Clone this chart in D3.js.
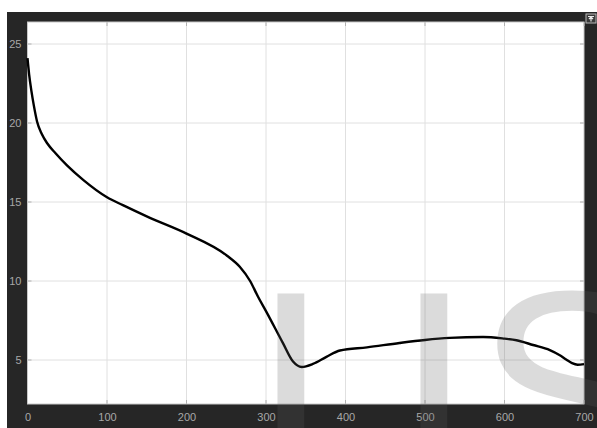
<!DOCTYPE html>
<html lang="en">

<head>
    <meta charset="UTF-8">
    <title>Scope Trace</title>
    <script src="https://d3js.org/d3.v7.min.js"></script>
    <style>
        body {
            margin: 0;
            padding: 0;
            background: #ffffff;
            font-family: 'Liberation Sans', Arial, sans-serif;
        }

        svg {
            display: block;
        }

        .x-axis text,
        .y-axis text {
            fill: #a8a8a8;
            font-size: 11px;
            font-family: 'Liberation Sans', Arial, sans-serif;
        }

        .x-axis path,
        .y-axis path {
            display: none;
        }

        .grid line {
            stroke: #e0e0e0;
            stroke-width: 1;
        }
    </style>
</head>

<body>
    <svg></svg>

    <script>
        // trace
        const timeValues = [0, 2, 5, 8, 12, 18, 25, 35, 50, 70, 100, 120, 154, 200, 251, 267, 280, 290, 301, 321, 334, 345, 359, 376, 393, 427, 468, 500, 531, 573, 600, 615, 636, 657, 669, 678, 685, 692, 700];
        const signalValues = [24.1, 23.1, 22.0, 21.1, 20.1, 19.3, 18.7, 18.1, 17.3, 16.4, 15.3, 14.8, 14.0, 13.0, 11.6, 10.9, 10.0, 9.0, 8.0, 6.1, 4.9, 4.56, 4.75, 5.2, 5.6, 5.8, 6.08, 6.27, 6.4, 6.46, 6.35, 6.25, 5.95, 5.63, 5.32, 5.02, 4.8, 4.7, 4.74];
        const xTicks = [0, 100, 200, 300, 400, 500, 600, 700];
        const yTicks = [5, 10, 15, 20, 25];
        const watermarkLetters = ["I", "I", "S"];

        const W = 597, H = 428;
        const frame = { left: 7, top: 12 };
        const plot = { left: 27.5, top: 22, right: 584, bottom: 404 };

        const svg = d3.select("svg")
            .attr("width", W)
            .attr("height", H);

        // dark scope frame
        svg.append("rect")
            .attr("x", frame.left)
            .attr("y", frame.top)
            .attr("width", W - frame.left)
            .attr("height", H - frame.top)
            .attr("fill", "#262626");

        svg.append("rect")
            .attr("x", plot.left)
            .attr("y", plot.top)
            .attr("width", plot.right - plot.left)
            .attr("height", plot.bottom - plot.top)
            .attr("fill", "#ffffff");

        const x = d3.scaleLinear()
            .domain([0, 700])
            .range([plot.left, plot.right]);

        // 25 sits at y=44, 5 at y=360
        const y = d3.scaleLinear()
            .domain([5, 25])
            .range([360, 44]);

        // grid
        const grid = svg.append("g").attr("class", "grid");
        grid.selectAll(".gx")
            .data(xTicks.filter(d => d > 0 && d < 700))
            .join("line")
            .attr("x1", d => x(d)).attr("x2", d => x(d))
            .attr("y1", plot.top).attr("y2", plot.bottom);
        grid.selectAll(".gy")
            .data(yTicks)
            .join("line")
            .attr("x1", plot.left).attr("x2", plot.right)
            .attr("y1", d => y(d)).attr("y2", d => y(d));

        // axes (labels on the dark frame)
        svg.append("g")
            .attr("class", "x-axis")
            .attr("transform", `translate(0,${plot.bottom})`)
            .call(d3.axisBottom(x).tickValues(xTicks).tickSize(0).tickPadding(9))
            .selectAll("text")
            .attr("dy", "0.71em");

        svg.append("g")
            .attr("class", "y-axis")
            .attr("transform", `translate(${plot.left},0)`)
            .call(d3.axisLeft(y).tickValues(yTicks).tickSize(0).tickPadding(6));

        // inner tick marks like the scope
        const ticks = svg.append("g").attr("stroke", "#b0b0b0").attr("stroke-width", 1);
        ticks.selectAll(".tb")
            .data(xTicks)
            .join("line")
            .attr("x1", d => x(d)).attr("x2", d => x(d))
            .attr("y1", plot.bottom).attr("y2", plot.bottom - 4);
        ticks.selectAll(".tt")
            .data(xTicks)
            .join("line")
            .attr("x1", d => x(d)).attr("x2", d => x(d))
            .attr("y1", plot.top).attr("y2", plot.top + 4);
        ticks.selectAll(".tl")
            .data(yTicks)
            .join("line")
            .attr("x1", plot.left).attr("x2", plot.left + 4)
            .attr("y1", d => y(d)).attr("y2", d => y(d));
        ticks.selectAll(".tr")
            .data(yTicks)
            .join("line")
            .attr("x1", plot.right).attr("x2", plot.right - 4)
            .attr("y1", d => y(d)).attr("y2", d => y(d));

        svg.append("rect")
            .attr("x", plot.left)
            .attr("y", plot.top)
            .attr("width", plot.right - plot.left)
            .attr("height", plot.bottom - plot.top)
            .attr("fill", "none")
            .attr("stroke", "#c8c8c8")
            .attr("stroke-width", 1);

        // signal
        const points = timeValues.map((t, i) => ({ t, v: signalValues[i] }));
        const line = d3.line()
            .x(d => x(d.t))
            .y(d => y(d.v))
            .curve(d3.curveMonotoneX);

        svg.append("path")
            .datum(points)
            .attr("fill", "none")
            .attr("stroke", "#000000")
            .attr("stroke-width", 2.4)
            .attr("stroke-linejoin", "round")
            .attr("d", line);

        // little undock button top right
        const btn = svg.append("g").attr("transform", "translate(586,14)");
        btn.append("rect")
            .attr("width", 10).attr("height", 9)
            .attr("fill", "#3a3a3a")
            .attr("stroke", "#b8b8b8")
            .attr("stroke-width", 1);
        btn.append("path")
            .attr("d", "M2,2.5 H8 M5,2.5 V7.5 M3,5 L5,3 L7,5")
            .attr("fill", "none")
            .attr("stroke", "#e8e8e8")
            .attr("stroke-width", 1.2);

        // watermark sits over everything, semi transparent
        const wmX = [251, 394, 475];
        svg.append("g")
            .attr("opacity", 0.22)
            .selectAll("text")
            .data(watermarkLetters)
            .join("text")
            .attr("x", (d, i) => wmX[i])
            .attr("y", 491)
            .attr("fill", "#5e5e5e")
            .style("font-family", "'Liberation Sans', Arial, sans-serif")
            .style("font-size", "287px")
            .text(d => d);
    </script>
</body>

</html>
